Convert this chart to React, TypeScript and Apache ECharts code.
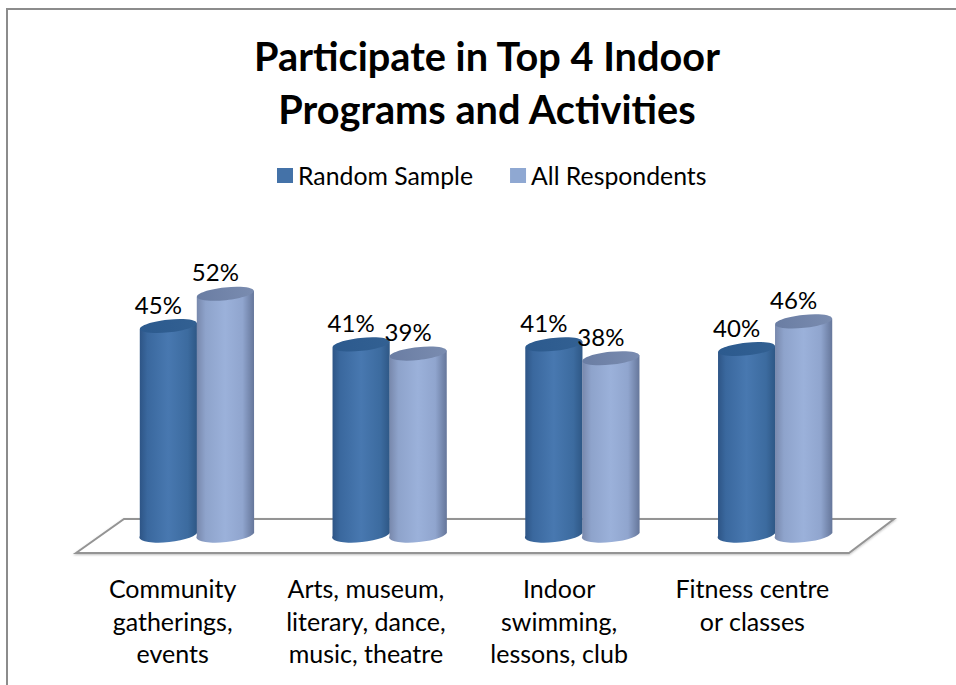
import React, { useEffect, useRef } from "react";
import * as echarts from "echarts";

const chartTitle = "Participate in Top 4 Indoor\nPrograms and Activities";
const categories = [
  "Community\ngatherings,\nevents",
  "Arts, museum,\nliterary, dance,\nmusic, theatre",
  "Indoor\nswimming,\nlessons, club",
  "Fitness centre\nor classes",
];
const randomSample = [45, 41, 41, 40];
const allRespondents = [52, 39, 38, 46];

const FONT = "Lato, Carlito, Calibri, sans-serif";
const BAR_WIDTH = 57.5;
const TILT_DEG = -6;

type Stop = { offset: number; color: string };
type Palette = { body: Stop[]; cap: Stop[]; key: string };
const darkBlue: Palette = {
  body: [
    { offset: 0, color: "#2d5485" },
    { offset: 0.14, color: "#3a689e" },
    { offset: 0.5, color: "#4878b0" },
    { offset: 0.84, color: "#3c6b9f" },
    { offset: 1, color: "#2e5785" },
  ],
  cap: [
    { offset: 0, color: "#2c5a8e" },
    { offset: 1, color: "#326092" },
  ],
  key: "#4472a8",
};
const paleBlue: Palette = {
  body: [
    { offset: 0, color: "#7787ab" },
    { offset: 0.16, color: "#8ea3cb" },
    { offset: 0.5, color: "#9bb1da" },
    { offset: 0.8, color: "#90a5ce" },
    { offset: 1, color: "#65769a" },
  ],
  cap: [
    { offset: 0, color: "#6a7da3" },
    { offset: 1, color: "#7a8cb0" },
  ],
  key: "#8fa8d2",
};

const horizontal = (stops: Stop[]) => new echarts.graphic.LinearGradient(0, 0, 1, 0, stops);

// One tilted cylinder: shaded body, darker cap, value written above and to the left of the cap.
function cylinder(palette: Palette, offset: number) {
  return (params: any, api: any) => {
    const catIndex = api.value(0);
    const value = api.value(1);
    const top = api.coord([catIndex, value]);
    const base = api.coord([catIndex, 0]);
    const cx = top[0] + offset;
    const rx = BAR_WIDTH / 2;
    const rad = (TILT_DEG * Math.PI) / 180;
    const dx = rx * Math.cos(rad);
    const dy = rx * Math.sin(rad);
    const rBase = 7.5;
    const body =
      `M ${cx - dx} ${top[1] - dy} L ${cx - dx} ${base[1] - dy} ` +
      `A ${rx} ${rBase} ${TILT_DEG} 0 0 ${cx + dx} ${base[1] + dy} ` +
      `L ${cx + dx} ${top[1] + dy} Z`;
    return {
      type: "group",
      children: [
        { type: "path", shape: { pathData: body }, style: { fill: horizontal(palette.body) } },
        {
          type: "ellipse",
          x: cx,
          y: top[1],
          rotation: -rad,
          shape: { cx: 0, cy: 0, rx: dx, ry: 6.4 },
          style: { fill: horizontal(palette.cap) },
        },
        {
          type: "text",
          x: cx - 10,
          y: top[1] - 10,
          style: {
            text: `${value}%`,
            font: `24px ${FONT}`,
            fill: "#000",
            align: "center",
            verticalAlign: "bottom",
          },
        },
      ],
    };
  };
}

function seriesFor(name: string, values: number[], palette: Palette, offset: number) {
  return {
    name,
    type: "custom",
    xAxisIndex: 0,
    yAxisIndex: 0,
    itemStyle: { color: palette.key },
    encode: { x: 0, y: 1 },
    data: values.map((v, i) => [i, v]),
    renderItem: cylinder(palette, offset),
  };
}

export default function App() {
  const ref = useRef<HTMLDivElement>(null);
  useEffect(() => {
    if (!ref.current) return;
    const chart = echarts.init(ref.current, undefined, { renderer: "svg" });
    chart.setOption({
      animation: false,
      backgroundColor: "#ffffff",
      title: {
        text: chartTitle,
        left: 482,
        top: 24,
        textAlign: "center",
        textStyle: {
          fontFamily: FONT,
          fontWeight: "bold",
          fontSize: 39.7,
          lineHeight: 53,
          color: "#000",
        },
      },
      legend: {
        left: 277,
        top: 163,
        padding: 0,
        itemWidth: 16,
        itemHeight: 15,
        itemGap: 37,
        icon: "rect",
        textStyle: { fontFamily: FONT, fontSize: 24.8, color: "#000" },
        data: ["Random Sample", "All Respondents"],
      },
      grid: [
        { left: 100.5, width: 771, top: 257, height: 276 },
        { left: 76, width: 773, top: 257, height: 296 },
      ],
      xAxis: [
        {
          type: "category",
          gridIndex: 0,
          data: categories,
          axisLine: { show: false },
          axisTick: { show: false },
          axisLabel: { show: false },
        },
        {
          type: "category",
          gridIndex: 1,
          data: categories,
          axisLine: { show: false },
          axisTick: { show: false },
          axisLabel: {
            interval: 0,
            margin: 19,
            fontFamily: FONT,
            fontSize: 25,
            lineHeight: 32.5,
            color: "#000",
          },
        },
      ],
      yAxis: [
        { type: "value", gridIndex: 0, min: 0, max: 60, show: false },
        { type: "value", gridIndex: 1, min: 0, max: 60, show: false },
      ],
      graphic: [
        {
          type: "polyline",
          z: 0,
          silent: true,
          shape: { points: [[7, 685], [7, 9], [956, 9]] },
          style: { stroke: "#8c8c8c", lineWidth: 2, fill: "none" },
        },
        {
          type: "polygon",
          z: 0,
          silent: true,
          shape: { points: [[76, 553], [124, 519], [894, 519], [849, 553]] },
          style: {
            stroke: "#949494",
            lineWidth: 2,
            fill: "#ffffff",
            shadowColor: "rgba(0,0,0,0.25)",
            shadowBlur: 2,
            shadowOffsetY: 1,
          },
        },
      ],
      series: [
        seriesFor("Random Sample", randomSample, darkBlue, -28.5),
        seriesFor("All Respondents", allRespondents, paleBlue, 28.5),
        // Empty series that ties the lower category axis to its grid.
        { type: "bar", xAxisIndex: 1, yAxisIndex: 1, data: [], silent: true },
      ],
    });
    return () => chart.dispose();
  }, []);
  return (
    <div
      ref={ref}
      style={{ position: "absolute", left: 0, top: 0, width: 956, height: 685 }}
    />
  );
}
